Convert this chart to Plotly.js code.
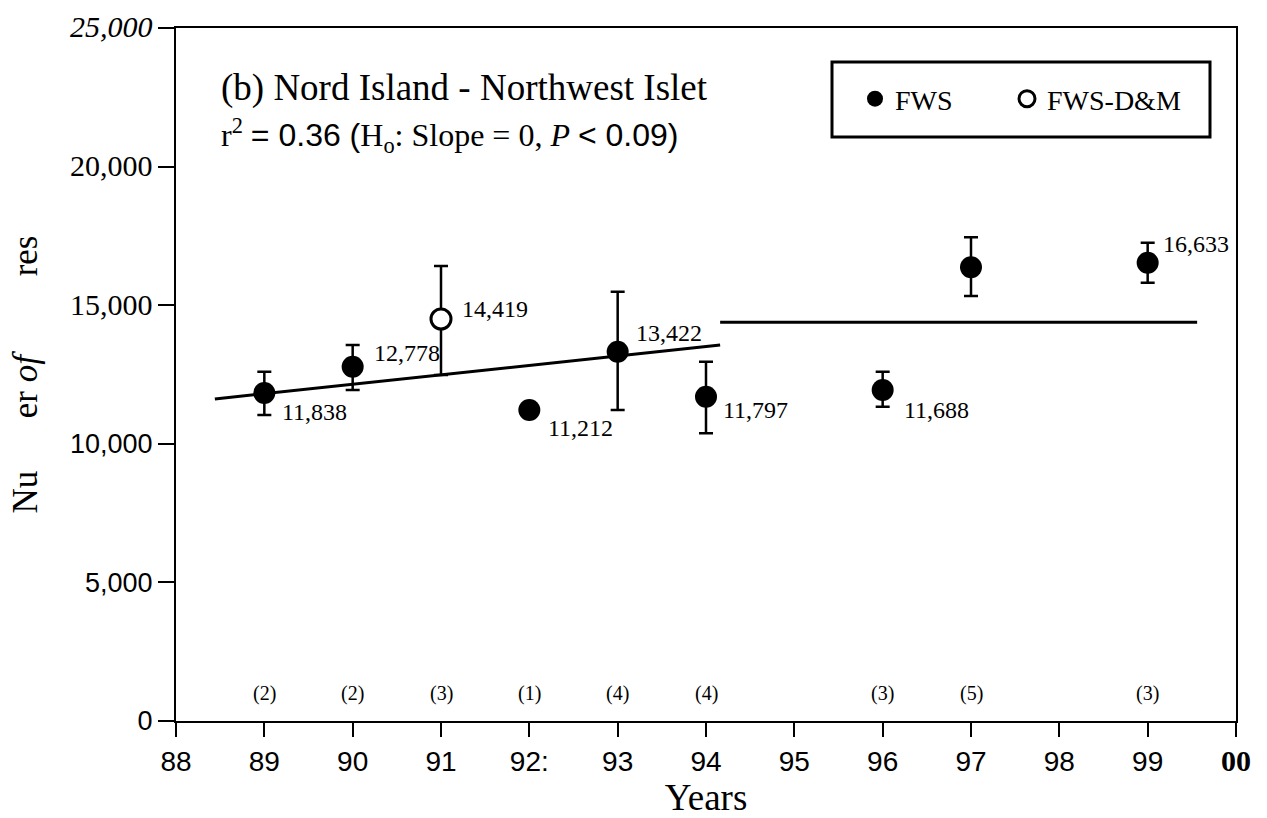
<!DOCTYPE html>
<html>
<head>
<meta charset="utf-8">
<script src="https://cdn.plot.ly/plotly-3.0.1.min.js"></script>
<style>html,body{margin:0;padding:0;background:#fff;}#chart{width:1267px;height:818px;}</style>
</head>
<body>
<div id="chart"></div>
<script>
// ---- data ----
const fwsYears = [89, 90, 92, 93, 94, 96, 97, 99];
const fwsValues = [11833, 12781, 11219, 13322, 11699, 11941, 16367, 16533];
const fwsErrPlus = [770, 783, 0, 2165, 1263, 660, 1083, 722];
const fwsErrMinus = [794, 840, 0, 2103, 1320, 602, 1035, 721];

const dmYears = [91];
const dmValues = [14502];
const dmErrPlus = [1912];
const dmErrMinus = [2020];

const labelYears = [89, 90, 91, 92, 93, 94, 96, 99];
const labelValues = [11833, 12781, 14502, 11219, 13322, 11699, 11941, 16533];
const labelTexts = ["11,838", "12,778", "14,419", "11,212", "13,422", "11,797", "11,688", "16,633"];

const trendX = [88.44, 94.16];
const trendY = [11616, 13564];
const meanX = [94.16, 99.56];
const meanY = [14383, 14383];

const countYears = [89, 90, 91, 92, 93, 94, 96, 97, 99];
const countValues = [2, 2, 3, 1, 4, 4, 3, 5, 3];

const xTickVals = [88, 89, 90, 91, 92, 93, 94, 95, 96, 97, 98, 99, 100];
const xTickText = ["88", "89", "90", "91", "92:", "93", "94", "95", "96", "97", "98", "99",
  "<span style='font-family:Liberation Serif;font-weight:bold;font-size:30px'>00</span>"];
const yTickVals = [0, 5000, 10000, 15000, 20000, 25000];
const yTickText = ["0", "5,000", "10,000",
  "<span style='font-family:Liberation Serif;font-size:30px'>15,000</span>",
  "<span style='font-family:Liberation Serif;font-size:30px'>20,000</span>",
  "<span style='font-family:Liberation Serif;font-style:italic;font-size:30px'>25,000</span>"];

// ---- label offsets (style, px) ----
const labelOffsets = [[18, 19], [21, -14], [21, -10], [19, 18], [18, -19], [17, 13], [21, 20], [15, -19]];

const SERIF = "Liberation Serif, Times New Roman, serif";
const SANS = "Liberation Sans, Arial, sans-serif";
const NB = "\u00a0";

const traces = [
  {
    x: trendX, y: trendY, mode: "lines", type: "scatter",
    line: {color: "#000", width: 3}, showlegend: false, hoverinfo: "skip"
  },
  {
    x: meanX, y: meanY, mode: "lines", type: "scatter",
    line: {color: "#000", width: 3}, showlegend: false, hoverinfo: "skip"
  },
  {
    x: fwsYears, y: fwsValues, name: "FWS", mode: "markers", type: "scatter",
    legend: "legend",
    marker: {color: "#000", size: 22, line: {color: "#000", width: 0}},
    error_y: {type: "data", symmetric: false, array: fwsErrPlus, arrayminus: fwsErrMinus,
      color: "#000", thickness: 2.5, width: 7}
  },
  {
    x: dmYears, y: dmValues, name: "FWS-D&M", mode: "markers", type: "scatter",
    legend: "legend2",
    marker: {color: "#fff", size: 20, line: {color: "#000", width: 3}},
    error_y: {type: "data", symmetric: false, array: dmErrPlus, arrayminus: dmErrMinus,
      color: "#000", thickness: 2.5, width: 7}
  }
];

const annotations = [];
labelYears.forEach((yr, i) => {
  annotations.push({
    x: yr, y: labelValues[i], xref: "x", yref: "y", text: labelTexts[i],
    showarrow: false, xanchor: "left", yanchor: "middle",
    xshift: labelOffsets[i][0] - 2, yshift: -labelOffsets[i][1],
    font: {family: SERIF, size: 24, color: "#000"}
  });
});
countYears.forEach((yr, i) => {
  annotations.push({
    x: yr, y: 1000, xref: "x", yref: "y", text: "(" + countValues[i] + ")",
    showarrow: false, xanchor: "center", yanchor: "middle",
    font: {family: SERIF, size: 20, color: "#000"}
  });
});
annotations.push({
  x: 0.041, y: 0.913, xref: "paper", yref: "paper", xanchor: "left", yanchor: "middle",
  text: "(b) Nord Island - Northwest Islet", showarrow: false,
  font: {family: SERIF, size: 37, color: "#000"}
});
annotations.push({
  x: 0.041, y: 0.845, xref: "paper", yref: "paper", xanchor: "left", yanchor: "middle",
  text: "r<sup>2</sup> <span style='font-family:Liberation Sans'>= 0.36 (</span>H<sub>o</sub>: Slope = 0, <i>P</i> <span style='font-family:Liberation Sans'>&lt; 0.09)</span>",
  showarrow: false, font: {family: SERIF, size: 32, color: "#000"}
});

const plotL = 176, plotT = 28, plotW = 1060, plotH = 693;
function px2paperX(px) { return (px - plotL) / plotW; }
function px2paperY(py) { return (plotT + plotH - py) / plotH; }

const legendCommon = {
  orientation: "h", yanchor: "top", xanchor: "left",
  bgcolor: "rgba(0,0,0,0)", borderwidth: 0,
  font: {family: SERIF, size: 28, color: "#000"}
};

const layout = {
  width: 1267, height: 818,
  margin: {l: 176, r: 31, t: 28, b: 97},
  paper_bgcolor: "#fff", plot_bgcolor: "#fff",
  showlegend: true,
  legend: Object.assign({}, legendCommon, {x: px2paperX(855), y: px2paperY(74)}),
  legend2: Object.assign({}, legendCommon, {x: px2paperX(1007), y: px2paperY(74)}),
  xaxis: {
    range: [88, 100], tickmode: "array", tickvals: xTickVals, ticktext: xTickText,
    showgrid: false, zeroline: false, showline: true, linecolor: "#000", linewidth: 2,
    mirror: true, ticks: "outside", ticklen: 14, tickwidth: 2, tickcolor: "#000",
    tickfont: {family: SANS, size: 28, color: "#000"},
    title: {text: "Years", font: {family: SERIF, size: 37, color: "#000"}, standoff: 14}
  },
  yaxis: {
    range: [0, 25000], tickmode: "array", tickvals: yTickVals, ticktext: yTickText,
    showgrid: false, zeroline: false, showline: true, linecolor: "#000", linewidth: 2,
    mirror: true, ticks: "outside", ticklen: 16, tickwidth: 2, tickcolor: "#000",
    tickfont: {family: SANS, size: 27, color: "#000"},
    title: {text: "Nu" + NB.repeat(6) + "er <i>of</i>" + NB.repeat(9) + "res",
      font: {family: SERIF, size: 35, color: "#000"}, standoff: 22}
  },
  shapes: [{
    type: "rect", xref: "paper", yref: "paper",
    x0: px2paperX(832), x1: px2paperX(1210), y0: px2paperY(137), y1: px2paperY(62),
    line: {color: "#000", width: 3}, fillcolor: "rgba(0,0,0,0)"
  }],
  annotations: annotations
};

Plotly.newPlot("chart", traces, layout, {displayModeBar: false, staticPlot: true});
</script>
</body>
</html>
